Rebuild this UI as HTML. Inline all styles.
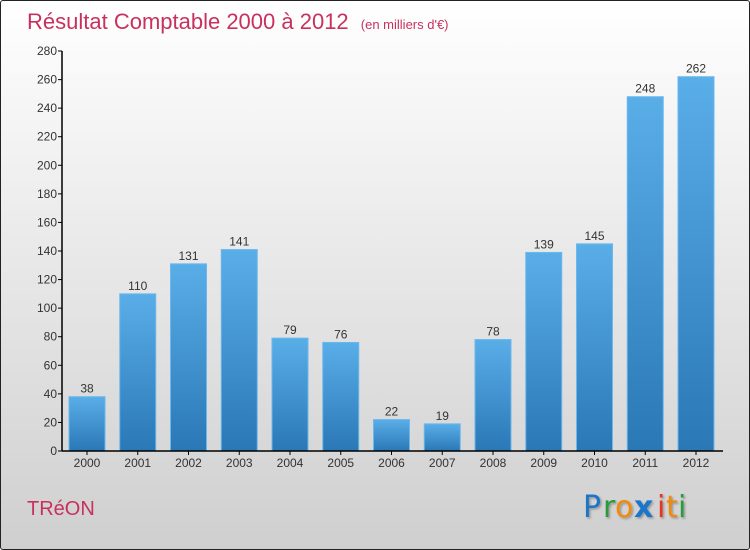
<!DOCTYPE html>
<html><head><meta charset="utf-8"><style>
body{margin:0;}
#wrap{position:relative;width:750px;height:550px;box-sizing:border-box;border:1px solid #222;border-radius:3px;background:linear-gradient(#ffffff,#cfcfcf);font-family:"Liberation Sans",sans-serif;overflow:hidden}
</style></head><body>
<div id="wrap">
<svg width="750" height="550" style="position:absolute;left:0;top:0" id="svg">
<defs><linearGradient id="bg" x1="0" y1="0" x2="0" y2="1"><stop offset="0" stop-color="#5aaee8"/><stop offset="1" stop-color="#2a78b6"/></linearGradient>
<filter id="sh"><feDropShadow dx="1.5" dy="1.5" stdDeviation="1" flood-opacity="0.3"/></filter></defs>
<text x="26" y="28" font-size="22" fill="#c8315f">Résultat Comptable 2000 à 2012 <tspan font-size="13" dx="6">(en milliers d'€)</tspan></text>
<text x="26" y="514" font-size="20" fill="#c8315f">TRéON</text>
<g filter="url(#sh)" font-size="30" font-family="'DejaVu Sans',sans-serif">
<text x="582" y="516" fill="#1a74c8">P</text><text x="602" y="516" fill="#2a9a3a">r</text><text x="614" y="516" fill="#f08a10">o</text><text x="633" y="516" fill="#1a74c8" font-weight="bold">x</text><text x="656" y="516" fill="#e83020">i</text><text x="665" y="516" fill="#f08a10">t</text><text x="677" y="516" fill="#2a9a3a">i</text>
</g>
<g id="plot"></g>
</svg>
</div>
<script>
const years=["2000","2001","2002","2003","2004","2005","2006","2007","2008","2009","2010","2011","2012"];
const values=[38,110,131,141,79,76,22,19,78,139,145,248,262];
const ticks=[0,20,40,60,80,100,120,140,160,180,200,220,240,260,280];
const ns="http://www.w3.org/2000/svg";
const g=document.getElementById('plot');
const y0=450,yScale=400/280,x0=61,step=50.75;
const y=v=>y0-v*yScale, xc=i=>x0+25+i*step;
function mk(t,a){const e=document.createElementNS(ns,t);for(const k in a)e.setAttribute(k,a[k]);g.appendChild(e);return e;}
ticks.forEach(t=>{
 const l=mk('line',{x1:x0-4,x2:x0,y1:y(t),y2:y(t),stroke:'#000'});
 
 
 const tx=mk('text',{x:x0-5,y:y(t)+4,'text-anchor':'end','font-size':12,fill:'#333'});
 tx.textContent=t;
 
 
});
values.forEach((v,i)=>{
 const r=mk('rect',{x:xc(i)-18,y:y(v),width:36,height:v*yScale,fill:'url(#bg)',stroke:'#6ab8ee','stroke-width':1});
 
 
 const vl=mk('text',{x:xc(i),y:y(v)-4,'text-anchor':'middle','font-size':12,fill:'#333'});
 vl.textContent=v;
 
 
 const tk=mk('line',{x1:xc(i),x2:xc(i),y1:y0,y2:y0+4,stroke:'#000'});
 
 
 const xl=mk('text',{x:xc(i),y:y0+16,'text-anchor':'middle','font-size':12,fill:'#333'});
 xl.textContent=years[i];
 
 
});
const ya=mk('line',{x1:x0,x2:x0,y1:y(280),y2:y0,stroke:'#000','stroke-width':1.5});


const xa=mk('line',{x1:x0,x2:722,y1:y0,y2:y0,stroke:'#000','stroke-width':1.5});


</script>
</body></html>
